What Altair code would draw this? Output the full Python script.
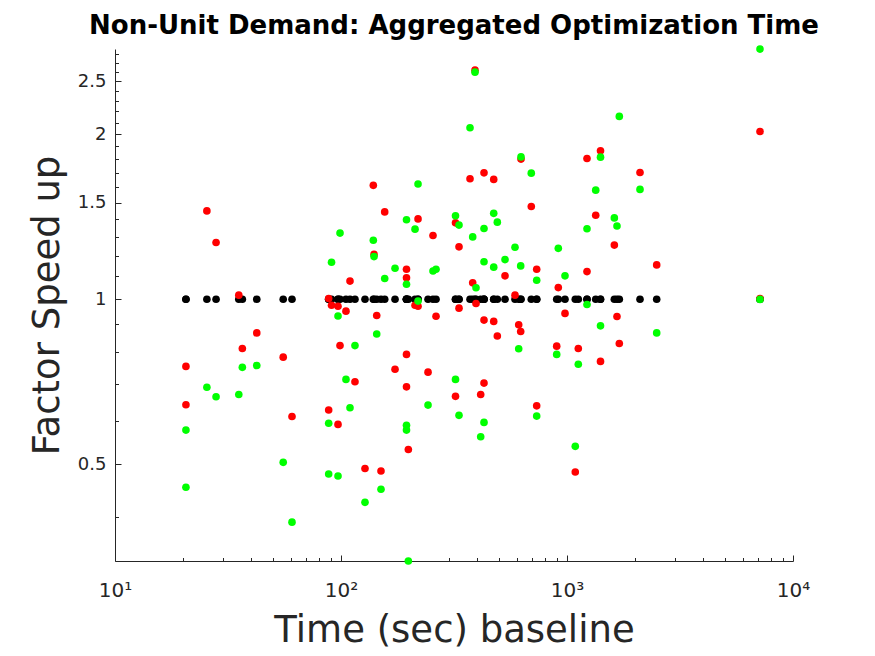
import altair as alt
import pandas as pd

# ---- data ----
red_x = [20.6, 20.6, 25.5, 28.0, 35.3, 36.6, 42.4, 55.5, 60.7, 88.2, 88.2, 90.8, 97.0, 97.0,
         99.0, 105.2, 109.6, 115.3, 127.7, 139.0, 140.0, 143.9, 150.3, 156.1, 173.4, 194.9,
         194.9, 194.9, 194.9, 198.6, 212.6, 219.2, 219.2, 242.7, 255.3, 263.3, 321.1, 321.1,
         332.8, 332.8, 372.3, 382.6, 391.7, 395.7, 415.1, 429.3, 429.3, 429.3, 474.0, 474.0,
         491.7, 531.8, 588.8, 611.4, 623.9, 625.9, 695.0, 734.3, 734.3, 900.4, 915.2, 979.9,
         1088, 1122, 1226, 1226, 1340, 1407, 1407, 1620, 1664, 1704, 2104, 2494, 7145, 7145]
red_y = [0.754, 0.642, 1.449, 1.269, 1.017, 0.813, 0.868, 0.784, 0.611, 1.003, 0.628, 0.975,
         0.971, 0.591, 0.823, 0.951, 1.079, 0.707, 0.491, 1.613, 1.207, 0.934, 0.486, 1.443,
         0.745, 1.134, 0.793, 1.094, 0.692, 0.532, 0.975, 0.971, 1.401, 0.736, 1.307, 0.931,
         1.378, 0.665, 1.246, 0.963, 1.658, 1.071, 2.617, 0.982, 0.670, 1.700, 0.916, 0.703,
         1.654, 0.911, 0.857, 1.103, 1.017, 0.898, 0.873, 1.801, 1.476, 1.134, 0.639, 0.821,
         1.050, 0.942, 0.484, 0.813, 1.806, 1.123, 1.423, 1.865, 0.770, 1.255, 0.930, 0.830,
         1.703, 1.155, 2.023, 1.003]

green_x = red_x
green_y = [0.577, 0.454, 0.691, 0.664, 0.670, 0.751, 0.757, 0.504, 0.392, 0.594, 0.480, 1.168,
           0.932, 0.476, 1.320, 0.714, 0.634, 0.823, 0.426, 1.281, 1.196, 0.864, 0.450, 1.091,
           1.139, 1.396, 0.577, 1.065, 0.589, 0.333, 1.342, 0.992, 1.622, 0.641, 1.126, 1.134,
           1.419, 0.714, 1.365, 0.614, 2.054, 1.299, 2.595, 1.049, 0.561, 1.346, 1.170, 0.596,
           1.434, 1.144, 1.382, 1.181, 1.244, 0.812, 1.150, 1.818, 1.698, 1.083, 0.612, 0.793,
           1.238, 1.103, 0.539, 0.761, 1.344, 0.978, 1.581, 1.816, 0.894, 1.407, 1.360, 2.155,
           1.586, 0.868, 2.859, 0.999]

black_x = red_x
black_y = [1.0] * len(black_x)

x_major = [10, 100, 1000, 10000]
x_minor = [20, 30, 40, 50, 60, 70, 80, 90, 200, 300, 400, 500, 600, 700, 800, 900,
           2000, 3000, 4000, 5000, 6000, 7000, 8000, 9000]
y_major = [0.5, 1, 1.5, 2, 2.5]
y_minor = [0.4, 0.6, 0.7, 0.8, 0.9, 1.1, 1.2, 1.3, 1.4, 1.6, 1.7, 1.8, 1.9,
           2.1, 2.2, 2.3, 2.4, 2.6, 2.7, 2.8]

x_domain = [10, 10000]
y_domain = [0.333, 2.86]

FONT = "DejaVu Sans"
AX = "#262626"

black_df = pd.DataFrame({"x": black_x, "y": black_y})
red_df = pd.DataFrame({"x": red_x, "y": red_y})
green_df = pd.DataFrame({"x": green_x, "y": green_y})

xs = alt.Scale(type="log", domain=x_domain, nice=False)
ys = alt.Scale(type="log", domain=y_domain, nice=False)

x_axis_major = alt.Axis(
    values=x_major, orient="bottom", title="Time (sec) baseline",
    labelExpr="'10' + (datum.value < 50 ? '¹' : datum.value < 500 ? '²' : datum.value < 5000 ? '³' : '⁴')",
    tickSize={"expr": "-6"}, tickColor=AX, domainColor=AX, labelColor=AX,
    labelFont=FONT, labelFontSize=20, labelPadding=41, labelBaseline="alphabetic",
    labelFlush=False, labelOverlap=False, grid=False,
    titleFont=FONT, titleFontSize=37, titleFontWeight="normal", titleColor=AX,
    titleBaseline="alphabetic", titleY=80,
)
y_axis_major = alt.Axis(
    values=y_major, orient="left", title="Factor Speed up", format="~g",
    tickSize={"expr": "-6"}, tickColor=AX, domainColor=AX, labelColor=AX,
    labelFont=FONT, labelFontSize=18, labelPadding=15,
    labelFlush=False, labelOverlap=False, grid=False,
    titleFont=FONT, titleFontSize=37, titleFontWeight="normal", titleColor=AX,
    titleBaseline="alphabetic", titleX=-57,
)
x_axis_minor = alt.Axis(values=x_minor, orient="bottom", title="", labels=False,
                        domain=False, grid=False, tickSize={"expr": "-3.5"}, tickColor=AX)
y_axis_minor = alt.Axis(values=y_minor, orient="left", title="", labels=False,
                        domain=False, grid=False, tickSize={"expr": "-3.5"}, tickColor=AX)

SIZE = 58

black = alt.Chart(black_df).mark_circle(size=SIZE, color="#000000", opacity=1).encode(
    x=alt.X("x:Q", scale=xs, axis=x_axis_major),
    y=alt.Y("y:Q", scale=ys, axis=y_axis_major),
)
red = alt.Chart(red_df).mark_circle(size=SIZE, color="#FF0000", opacity=1).encode(
    x=alt.X("x:Q", scale=xs, axis=x_axis_minor),
    y=alt.Y("y:Q", scale=ys, axis=y_axis_minor),
)
green = alt.Chart(green_df).mark_circle(size=SIZE, color="#00FF00", opacity=1).encode(
    x=alt.X("x:Q", scale=xs, axis=None),
    y=alt.Y("y:Q", scale=ys, axis=None),
)

chart = alt.layer(black, red, green).resolve_axis(x="independent", y="independent").properties(
    width=678, height=512,
    padding={"left": 107, "top": 41, "right": 74, "bottom": 89},
    autosize=alt.AutoSizeParams(type="none"),
    view=alt.ViewBackground(stroke="transparent", strokeWidth=0),
    title=alt.TitleParams(
        "Non-Unit Demand: Aggregated Optimization Time",
        font=FONT, fontSize=26, fontWeight="bold", color="#000000",
        anchor="middle", frame="group", baseline="alphabetic", offset=16, dy=31,
    ),
).configure_view(strokeWidth=0, stroke="transparent").configure_axis(
    grid=False
).configure(background="white")

chart.save("out.html", embed_options={"renderer": "svg", "actions": False})
